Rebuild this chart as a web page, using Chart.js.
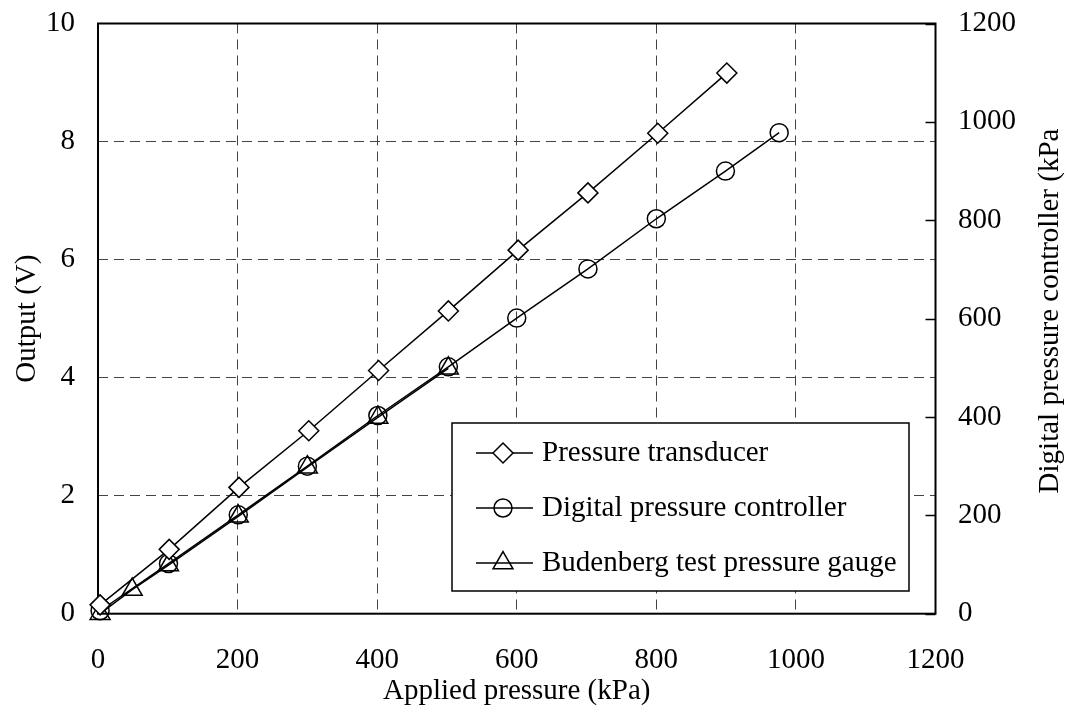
<!DOCTYPE html>
<html>
<head>
<meta charset="utf-8">
<title>Pressure calibration</title>
<script src="https://cdn.jsdelivr.net/npm/chart.js@4.4.0/dist/chart.umd.min.js"></script>
<style>
  html, body { margin: 0; padding: 0; background: #fff; }
</style>
</head>
<body>
<canvas id="calChart" width="1070" height="722"></canvas>
<script>
// Calibration readings
const transducerApplied = [3, 102, 202, 302, 402, 502, 602, 702, 802, 901];
const transducerVolts = [0.15, 1.09, 2.14, 3.10, 4.12, 5.13, 6.16, 7.13, 8.14, 9.16];

const controllerApplied = [3, 101, 201, 300, 401, 502, 600, 702, 800, 899, 976];
const controllerKPa = [6, 102, 201, 300, 403, 502, 601, 701, 803, 900, 978];

const gaugeApplied = [3, 49, 101, 201, 300, 401, 502];
const gaugeKPa = [0, 49, 99, 198, 298, 399, 499];

const xTicks = [0, 200, 400, 600, 800, 1000, 1200];
const voltTicks = [0, 2, 4, 6, 8, 10];
const kpaTicks = [0, 200, 400, 600, 800, 1000, 1200];

const FONT = '"Liberation Serif", "Times New Roman", serif';
const FONT_SIZE = 29;

Chart.defaults.font.family = FONT;
Chart.defaults.font.size = FONT_SIZE;
Chart.defaults.color = '#000';

function toPoints(xs, ys) {
    return xs.map((x, i) => ({ x: x, y: ys[i] }));
}

function series(label, xs, ys, axis, style, radius, fill) {
    return {
        label: label,
        data: toPoints(xs, ys),
        yAxisID: axis,
        showLine: true,
        borderColor: '#000',
        borderWidth: 1.5,
        pointStyle: style,
        pointRadius: radius,
        pointBackgroundColor: fill,
        pointBorderColor: '#000',
        pointBorderWidth: 1.5,
        clip: false
    };
}

// fixed ticks, plain numbers, no extra label overhang
function fixedTicks(values) {
    return s => { s.ticks = values.map(v => ({ value: v })); };
}
function plainLabel(v) {
    return String(v);
}
function noOverhang(s) {
    s.paddingTop = 0;
    s.paddingBottom = 0;
    s.paddingLeft = 0;
    s.paddingRight = 0;
}

// box round the plot area plus the inward ticks of the right axis
const framePlugin = {
    id: 'frame',
    beforeDatasetsDraw(chart) {
        const { ctx, chartArea: a } = chart;
        const y2 = chart.scales.y2;
        ctx.save();
        ctx.strokeStyle = '#000';
        ctx.lineWidth = 1.5;
        y2.ticks.forEach(t => {
            const py = Math.round(y2.getPixelForValue(t.value)) + 0.5;
            ctx.beginPath();
            ctx.moveTo(a.right - 10, py);
            ctx.lineTo(a.right, py);
            ctx.stroke();
        });
        ctx.lineWidth = 2;
        ctx.strokeRect(a.left, a.top, a.right - a.left, a.bottom - a.top);
        ctx.restore();
    }
};

// right axis title, read from bottom to top
const rightTitlePlugin = {
    id: 'rightTitle',
    afterDraw(chart) {
        const ctx = chart.ctx;
        ctx.save();
        ctx.translate(1050, 311);
        ctx.rotate(-Math.PI / 2);
        ctx.font = FONT_SIZE + 'px ' + FONT;
        ctx.fillStyle = '#000';
        ctx.textAlign = 'center';
        ctx.textBaseline = 'middle';
        ctx.fillText('Digital pressure controller (kPa', 0, 0);
        ctx.restore();
    }
};

// boxed legend inside the plot
const boxLegendPlugin = {
    id: 'boxLegend',
    afterDraw(chart) {
        const ctx = chart.ctx;
        const box = { left: 452, top: 423, right: 909, bottom: 591 };
        ctx.save();
        ctx.fillStyle = '#fff';
        ctx.fillRect(box.left, box.top, box.right - box.left, box.bottom - box.top);
        ctx.strokeStyle = '#000';
        ctx.lineWidth = 1.5;
        ctx.strokeRect(box.left, box.top, box.right - box.left, box.bottom - box.top);

        chart.data.datasets.forEach((ds, i) => {
            const y = box.top + 30 + i * 55;
            ctx.strokeStyle = '#000';
            ctx.lineWidth = 1.5;
            ctx.beginPath();
            ctx.moveTo(box.left + 24, y);
            ctx.lineTo(box.left + 81, y);
            ctx.stroke();
            ctx.fillStyle = ds.pointBackgroundColor;
            Chart.helpers.drawPoint(ctx, {
                pointStyle: ds.pointStyle,
                radius: ds.pointRadius,
                rotation: 0,
                borderWidth: ds.pointBorderWidth
            }, box.left + 51, y);
            ctx.fillStyle = '#000';
            ctx.font = FONT_SIZE + 'px ' + FONT;
            ctx.textAlign = 'left';
            ctx.textBaseline = 'middle';
            ctx.fillText(ds.label, box.left + 90, y);
        });
        ctx.restore();
    }
};

const gridDash = { display: false, dash: [10, 6] };

const ctx = document.getElementById('calChart').getContext('2d');
const calChart = new Chart(ctx, {
    type: 'scatter',
    data: {
        datasets: [
            series('Pressure transducer', transducerApplied, transducerVolts, 'y', 'rectRot', 10, '#fff'),
            series('Digital pressure controller', controllerApplied, controllerKPa, 'y2', 'circle', 9, 'rgba(0,0,0,0)'),
            series('Budenberg test pressure gauge', gaugeApplied, gaugeKPa, 'y2', 'triangle', 11.5, 'rgba(0,0,0,0)')
        ]
    },
    options: {
        responsive: false,
        animation: false,
        layout: { padding: { top: 23.5, left: 0, right: 0, bottom: 0 } },
        plugins: {
            legend: { display: false },
            tooltip: { enabled: false }
        },
        scales: {
            x: {
                type: 'linear',
                min: 0,
                max: 1200,
                afterBuildTicks: fixedTicks(xTicks),
                afterFit: s => { noOverhang(s); s.height = 108.3; },
                ticks: { padding: 29, callback: plainLabel },
                grid: { color: '#444', lineWidth: 1, drawTicks: false },
                border: gridDash,
                title: {
                    display: true,
                    text: 'Applied pressure (kPa)',
                    padding: { top: 0, bottom: 13 }
                }
            },
            y: {
                type: 'linear',
                position: 'left',
                min: 0,
                max: 10,
                afterBuildTicks: fixedTicks(voltTicks),
                afterFit: s => { noOverhang(s); s.width = 98; },
                ticks: { padding: 23, callback: plainLabel },
                grid: { color: '#444', lineWidth: 1, drawTicks: false },
                border: gridDash,
                title: {
                    display: true,
                    text: 'Output (V)',
                    padding: { top: 9.6, bottom: 0 }
                }
            },
            y2: {
                type: 'linear',
                position: 'right',
                min: 0,
                max: 1200,
                afterBuildTicks: fixedTicks(kpaTicks),
                afterFit: s => { noOverhang(s); s.width = 134.5; },
                ticks: { padding: 22.5, callback: plainLabel },
                grid: { display: false, drawTicks: false, drawOnChartArea: false },
                border: { display: false }
            }
        }
    },
    plugins: [framePlugin, rightTitlePlugin, boxLegendPlugin]
});
</script>
</body>
</html>
